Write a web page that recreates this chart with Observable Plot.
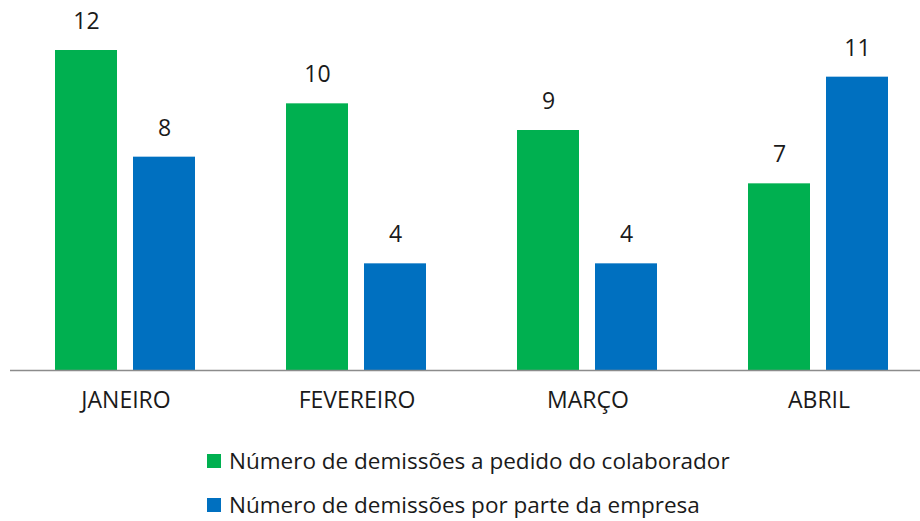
<!DOCTYPE html>
<html><head><meta charset="utf-8">
<script src="https://cdn.jsdelivr.net/npm/d3@7"></script>
<script src="https://cdn.jsdelivr.net/npm/@observablehq/plot@0.6"></script>
<style>
body{margin:0;background:#fff;font-family:"Open Sans",sans-serif;overflow:hidden}
#wrap{width:920px;overflow:hidden}
.legend{padding-left:207px;margin-top:18px}
.row{height:26px;line-height:26px;font-size:22.5px;color:#1a1a1a;display:flex;align-items:center;white-space:nowrap;margin-bottom:18px}
.sw{width:14px;height:14px;margin-right:8px;display:inline-block;flex:none}
</style></head>
<body><div id="wrap"><div id="chart"></div>
<div class="legend" id="legend"></div></div>
<script>
const months = ["JANEIRO", "FEVEREIRO", "MARÇO", "ABRIL"];
const seriesNames = ["Número de demissões a pedido do colaborador", "Número de demissões por parte da empresa"];
const colaborador = [12, 10, 9, 7];
const empresa = [8, 4, 4, 11];
const colors = ["#00B050", "#0070C0"];

const data = [];
months.forEach((m, i) => {
  data.push({month: m, series: seriesNames[0], value: colaborador[i]});
  data.push({month: m, series: seriesNames[1], value: empresa[i]});
});

const chart = Plot.plot({
  width: 920, height: 430,
  marginLeft: 9, marginRight: -14, marginTop: 50, marginBottom: 60,
  style: {fontFamily: "'Open Sans', sans-serif", fontSize: "23px", color: "#1a1a1a", background: "#fff"},
  fx: {domain: months, padding: 0, label: null, tickSize: 0, tickPadding: 21, axis: "bottom"},
  x: {domain: seriesNames, paddingInner: 0.205, paddingOuter: 0.583, axis: null},
  y: {domain: [0, 12], axis: null},
  color: {domain: seriesNames, range: colors},
  marks: [
    Plot.barY(data, {fx: "month", x: "series", y: "value", fill: "series"}),
    Plot.ruleY([0], {stroke: "#8c8c8c", strokeWidth: 1.5}),
    Plot.text(data, {fx: "month", x: "series", y: "value", text: d => String(d.value), dy: -29, fontSize: 23, fill: "#1a1a1a"})
  ]
});
document.getElementById("chart").appendChild(chart);

const leg = document.getElementById("legend");
seriesNames.forEach((s, i) => {
  const r = document.createElement("div"); r.className = "row";
  const sw = document.createElement("span"); sw.className = "sw"; sw.style.background = colors[i];
  r.appendChild(sw); r.appendChild(document.createTextNode(s));
  leg.appendChild(r);
});
</script></body></html>
